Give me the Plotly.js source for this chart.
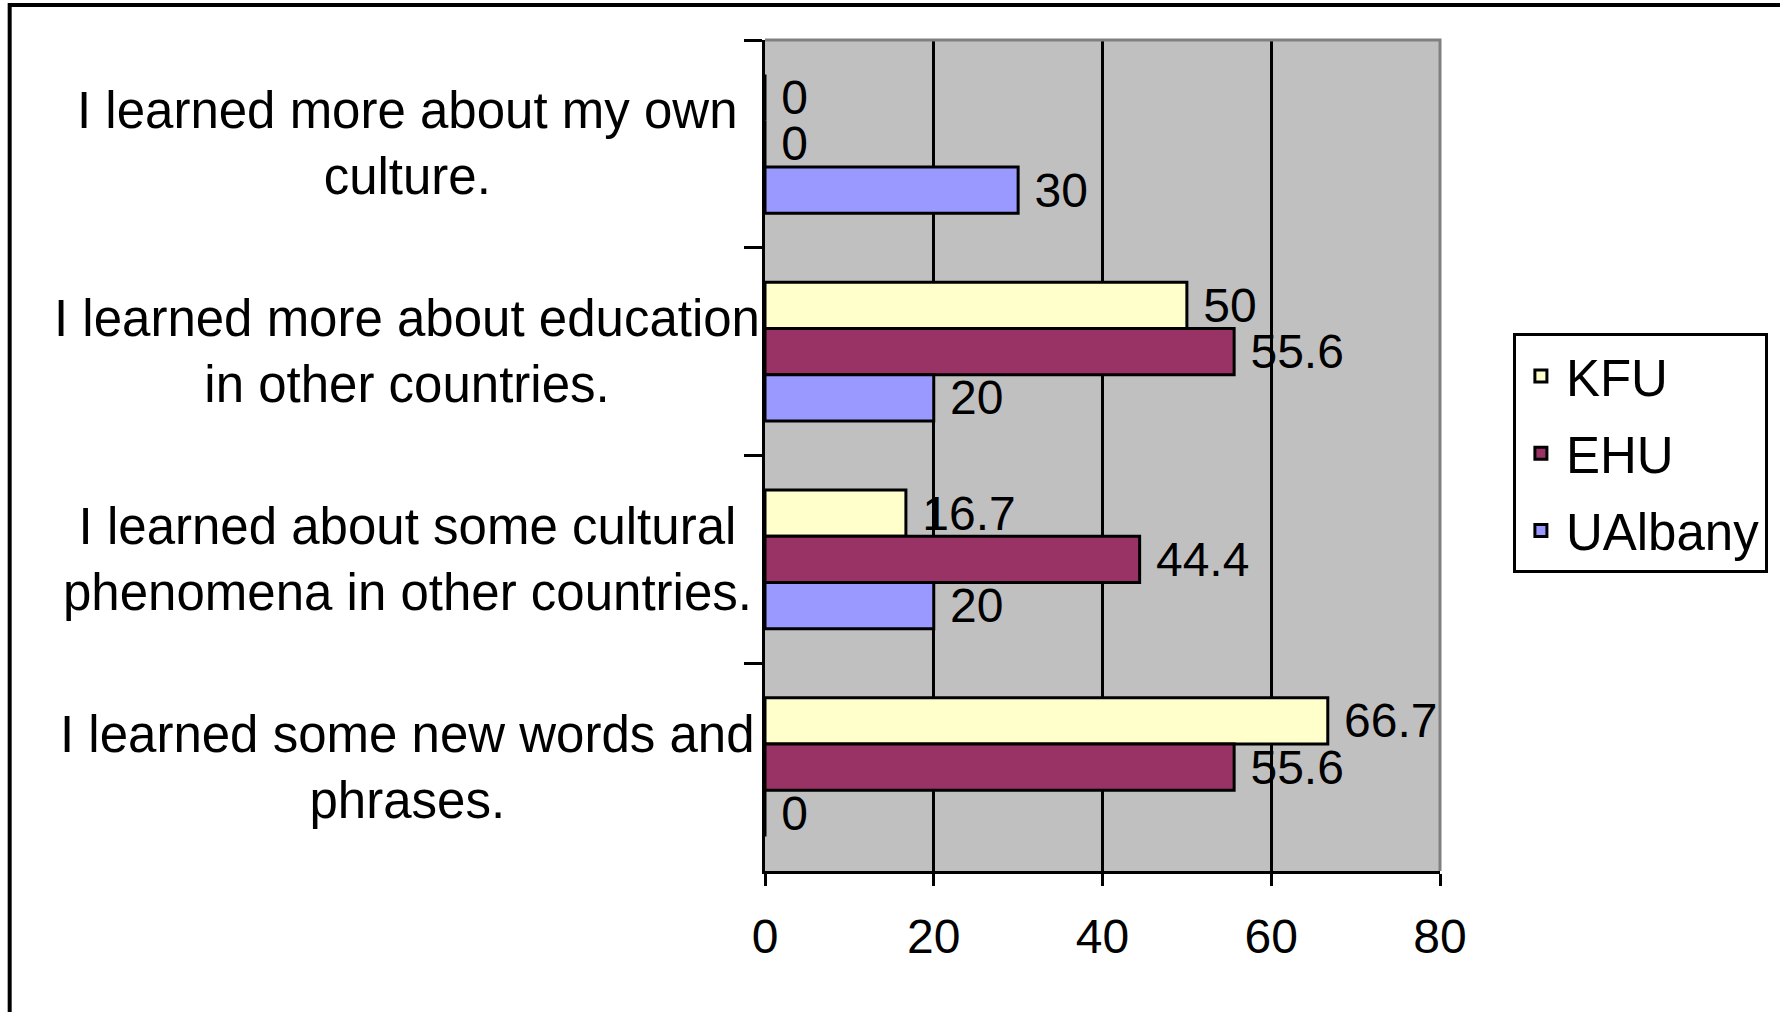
<!DOCTYPE html>
<html>
<head>
<meta charset="utf-8">
<script src="https://cdn.plot.ly/plotly-3.0.1.min.js"></script>
<style>html,body{margin:0;padding:0;background:#fff;}#chart{width:1780px;height:1012px;}</style>
</head>
<body>
<div id="chart"></div>
<script>
// Categories, listed top to bottom as in the chart
const categories = [
  "I learned more about my own culture.",
  "I learned more about education in other countries.",
  "I learned about some cultural phenomena in other countries.",
  "I learned some new words and phrases."
];
const categoryLabels = [
  "I learned more about my own<br>culture.",
  "I learned more about education<br>in other countries.",
  "I learned about some cultural<br>phenomena in other countries.",
  "I learned some new words and<br>phrases."
];
const seriesNames = ["KFU", "EHU", "UAlbany"];
const kfuValues = [0, 50, 16.7, 66.7];
const ehuValues = [0, 55.6, 44.4, 55.6];
const ualbanyValues = [30, 20, 20, 0];
const xTickValues = [0, 20, 40, 60, 80];

const FONT = "Liberation Sans, Arial, sans-serif";
const FS = 48;
const FS_CAT = 51;
const colors = ["#FFFFCC", "#993366", "#9999FF"];
const allValues = [kfuValues, ehuValues, ualbanyValues];

const traces = seriesNames.map((name, i) => ({
  type: "bar",
  orientation: "h",
  name: name,
  legendgroup: name,
  y: categories,
  x: allValues[i],
  marker: {color: colors[i], line: {color: "#000", width: 3}},
  text: allValues[i].map(v => "\u00a0" + v),
  textposition: "outside",
  constraintext: "none",
  cliponaxis: false,
  textfont: {family: FONT, size: FS, color: "#000"},
  hoverinfo: "x+name"
}));

const annotations = categories.map((c, i) => ({
  xref: "paper", yref: "y",
  x: -0.53, y: c,
  xanchor: "center", yanchor: "middle",
  align: "center",
  text: categoryLabels[i],
  showarrow: false,
  font: {family: FONT, size: FS_CAT, color: "#000"}
}));

const layout = {
  width: 1780, height: 1012,
  margin: {l: 765, r: 340, t: 40, b: 141, pad: 0},
  paper_bgcolor: "#fff",
  plot_bgcolor: "#C0C0C0",
  font: {family: FONT, size: FS, color: "#000"},
  barmode: "group",
  bargap: 0.333,
  bargroupgap: 0,
  showlegend: true,
  legend: {
    x: 1.108, y: 0.647, xanchor: "left", yanchor: "top",
    bgcolor: "#fff", bordercolor: "#000", borderwidth: 3,
    font: {family: FONT, size: FS_CAT, color: "#000"},
    tracegroupgap: 8,
    itemwidth: 40,
    traceorder: "grouped"
  },
  xaxis: {
    range: [0, 80],
    tickmode: "array",
    tickvals: xTickValues,
    ticktext: xTickValues.map(String),
    ticks: "outside", ticklen: 12, tickwidth: 3, tickcolor: "#000",
    ticklabelstandoff: 9,
    showgrid: true, gridcolor: "#000", gridwidth: 3,
    showline: true, linecolor: "#000", linewidth: 3,
    zeroline: false,
    tickfont: {family: FONT, size: FS, color: "#000"},
    fixedrange: true
  },
  yaxis: {
    type: "category",
    categoryorder: "array",
    categoryarray: categories,
    autorange: "reversed",
    showticklabels: false,
    ticks: "outside", tickson: "boundaries", ticklen: 18, tickwidth: 3, tickcolor: "#000",
    showgrid: false,
    showline: true, linecolor: "#000", linewidth: 3,
    zeroline: false,
    fixedrange: true
  },
  annotations: annotations,
  shapes: [
    {type: "path", xref: "paper", yref: "paper", path: "M0,1 L1,1 L1,0", line: {color: "#808080", width: 3}, layer: "above"},
    {type: "path", xref: "paper", yref: "paper", path: "M-1.119,-0.17 L-1.119,1.042 L1.52,1.042", line: {color: "#000", width: 4}, layer: "above"}
  ]
};

Plotly.newPlot("chart", traces, layout, {displayModeBar: false, staticPlot: true});
</script>
</body>
</html>
